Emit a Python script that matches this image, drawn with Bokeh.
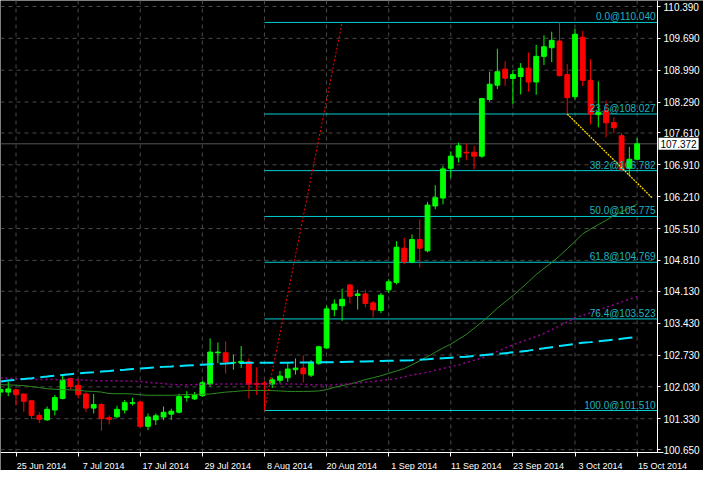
import pandas as pd
from bokeh.plotting import figure
from bokeh.models import (Range1d, FixedTicker, PrintfTickFormatter, CustomJSTickFormatter,
                          LinearAxis, Label, ColumnDataSource)
from bokeh.core.properties import value
from bokeh.embed import file_html
from bokeh.resources import INLINE

FONT = "Liberation Sans"

# ---- data (daily bars, 23 Jun 2014 .. 15 Oct 2014) ----
dates = [d.strftime("%-d %b %Y") for d in pd.bdate_range("2014-06-23", "2014-10-15")]

opens = [101.915, 101.915, 101.964, 101.873, 101.725, 101.403, 101.304, 101.521, 101.774, 102.210,
         102.063, 101.873, 101.563, 101.641, 101.352, 101.373, 101.521, 101.668, 101.698, 101.162,
         101.304, 101.367, 101.430, 101.472, 101.795, 101.767, 101.837, 102.090, 102.779, 102.779,
         102.554, 102.554, 102.583, 102.105, 102.111, 102.090, 102.174, 102.231, 102.406, 102.442,
         102.288, 102.547, 102.885, 103.728, 103.812, 104.270, 104.038, 104.072, 103.876, 103.707,
         104.164, 104.325, 105.077, 104.776, 105.267, 105.020, 106.005, 106.180, 106.833, 107.080,
         107.186, 107.186, 107.101, 108.345, 108.661, 109.013, 108.809, 108.851, 109.034, 108.731,
         109.294, 109.483, 109.631, 108.893, 108.408, 109.715, 108.767, 108.014, 108.098, 107.839,
         107.550, 106.833, 107.032]
highs = [102.020, 102.141, 101.985, 101.880, 101.730, 101.472, 101.599, 101.852, 102.288, 102.231,
         102.195, 101.909, 101.873, 101.668, 101.403, 101.614, 101.740, 101.789, 101.705, 101.445,
         101.445, 101.599, 101.550, 101.879, 101.936, 101.915, 102.162, 103.096, 103.005, 103.032,
         102.737, 102.927, 102.653, 102.457, 102.160, 102.231, 102.379, 102.547, 102.653, 102.722,
         102.617, 102.933, 103.812, 103.954, 104.186, 104.280, 104.164, 104.164, 103.918, 104.093,
         104.396, 105.231, 105.309, 105.379, 105.710, 106.096, 106.462, 106.884, 107.207, 107.396,
         107.382, 107.327, 108.381, 108.956, 109.462, 109.188, 108.992, 109.146, 109.378, 109.547,
         109.757, 109.836, 110.040, 109.125, 109.899, 109.857, 109.230, 108.746, 108.324, 107.959,
         107.607, 107.306, 107.502]
lows = [101.810, 101.824, 101.620, 101.479, 101.318, 101.234, 101.283, 101.403, 101.753, 101.978,
        101.774, 101.479, 101.445, 101.065, 101.205, 101.340, 101.445, 101.620, 101.135, 101.078,
        101.192, 101.297, 101.304, 101.445, 101.704, 101.740, 101.810, 102.035, 102.547, 102.322,
        102.406, 102.442, 101.774, 101.850, 101.510, 102.006, 102.105, 102.141, 102.301, 102.126,
        102.246, 102.512, 102.864, 103.581, 103.481, 103.861, 103.728, 103.777, 103.553, 103.650,
        104.093, 104.282, 104.725, 104.746, 104.656, 104.987, 105.935, 106.041, 106.623, 106.960,
        107.011, 106.812, 107.065, 108.303, 108.577, 108.647, 108.240, 108.457, 108.520, 108.450,
        109.104, 109.167, 108.851, 108.008, 108.345, 108.640, 107.797, 107.734, 107.516, 107.607,
        106.764, 106.673, 107.011]
closes = [101.972, 101.985, 101.858, 101.711, 101.403, 101.318, 101.536, 101.795, 102.183, 102.041,
          101.858, 101.563, 101.641, 101.331, 101.318, 101.536, 101.683, 101.683, 101.162, 101.367,
          101.394, 101.472, 101.493, 101.816, 101.824, 101.845, 102.119, 102.794, 102.794, 102.575,
          102.568, 102.590, 102.090, 102.084, 102.090, 102.183, 102.267, 102.421, 102.442, 102.316,
          102.568, 102.912, 103.743, 103.848, 103.954, 104.023, 104.072, 103.861, 103.722, 104.044,
          104.339, 105.098, 104.782, 105.267, 105.077, 106.026, 106.188, 106.821, 107.101, 107.327,
          107.171, 107.101, 108.366, 108.682, 108.956, 108.815, 108.893, 109.034, 108.731, 109.294,
          109.505, 109.646, 108.872, 108.387, 109.779, 108.767, 108.029, 108.065, 107.833, 107.727,
          106.800, 107.032, 107.372]

ma_cyan = [102.147, 102.168, 102.185, 102.202, 102.219, 102.240, 102.256, 102.273, 102.292, 102.309,
           102.324, 102.341, 102.353, 102.366, 102.379, 102.393, 102.406, 102.421, 102.433, 102.446,
           102.459, 102.469, 102.478, 102.488, 102.499, 102.507, 102.518, 102.526, 102.535, 102.543,
           102.552, 102.556, 102.560, 102.562, 102.562, 102.562, 102.562, 102.562, 102.564, 102.566,
           102.566, 102.568, 102.568, 102.572, 102.577, 102.581, 102.585, 102.589, 102.594, 102.598,
           102.602, 102.606, 102.611, 102.617, 102.625, 102.636, 102.649, 102.661, 102.672, 102.682,
           102.693, 102.708, 102.724, 102.739, 102.754, 102.771, 102.788, 102.805, 102.826, 102.853,
           102.876, 102.902, 102.927, 102.952, 102.975, 102.998, 103.013, 103.030, 103.049, 103.066,
           103.087, 103.108, 103.129]
ma_purple = [102.225, 102.219, 102.210, 102.202, 102.195, 102.193, 102.191, 102.189, 102.187, 102.185,
             102.183, 102.176, 102.168, 102.162, 102.162, 102.162, 102.160, 102.155, 102.147, 102.130,
             102.117, 102.101, 102.084, 102.077, 102.077, 102.079, 102.084, 102.088, 102.090, 102.090,
             102.090, 102.090, 102.090, 102.090, 102.090, 102.090, 102.090, 102.090, 102.090, 102.084,
             102.077, 102.073, 102.073, 102.079, 102.088, 102.098, 102.113, 102.130, 102.147, 102.168,
             102.189, 102.214, 102.248, 102.290, 102.320, 102.349, 102.394, 102.434, 102.472, 102.510,
             102.565, 102.615, 102.664, 102.733, 102.809, 102.883, 102.956, 103.016, 103.077, 103.138,
             103.201, 103.285, 103.370, 103.454, 103.549, 103.602, 103.659, 103.718, 103.777, 103.834,
             103.897, 103.956, 104.009]
ma_green = [102.077, 102.073, 102.067, 102.056, 102.035, 102.016, 101.989, 101.978, 101.968, 101.964,
            101.961, 101.936, 101.930, 101.915, 101.883, 101.879, 101.879, 101.873, 101.856, 101.845,
            101.845, 101.845, 101.845, 101.852, 101.862, 101.866, 101.866, 101.873, 101.894, 101.915,
            101.926, 101.942, 101.951, 101.951, 101.951, 101.947, 101.940, 101.930, 101.930, 101.930,
            101.932, 101.940, 101.968, 102.020, 102.056, 102.094, 102.136, 102.189, 102.231, 102.273,
            102.326, 102.379, 102.431, 102.516, 102.600, 102.695, 102.790, 102.885, 102.969, 103.075,
            103.180, 103.317, 103.454, 103.602, 103.760, 103.897, 104.034, 104.182, 104.340, 104.498,
            104.635, 104.761, 104.909, 105.067, 105.225, 105.394, 105.499, 105.594, 105.689, 105.794,
            105.879, 105.963, 106.041]

date_ticks = ["25 Jun 2014", "7 Jul 2014", "17 Jul 2014", "29 Jul 2014", "8 Aug 2014",
              "20 Aug 2014", "1 Sep 2014", "11 Sep 2014", "23 Sep 2014", "3 Oct 2014", "15 Oct 2014"]
price_ticks = [110.390, 109.690, 108.990, 108.290, 107.610, 106.910, 106.210, 105.510,
               104.810, 104.130, 103.430, 102.730, 102.030, 101.330, 100.650]

fib_levels = [0.0, 23.6, 38.2, 50.0, 61.8, 76.4, 100.0]
fib_prices = [110.040, 108.027, 106.782, 105.775, 104.769, 103.523, 101.510]
fib_start = "8 Aug 2014"

red_line_x = [34, 44]
red_line_y = [101.510, 110.040]
yellow_line_x = [73, 84]
yellow_line_y = [108.027, 106.174]

last_price = 107.372

# ---- geometry ----
W, H = 703, 470
X_END = 84.625               # right edge of the price area (bars)
Y_START = 100.587            # bottom edge of the price area
AXIS_PX_X = 657              # pixel column of the price axis
AXIS_PX_Y = 452              # pixel row of the time axis
TOP_TICK_PX = 6              # pixel row of the highest price tick
PX_X = AXIS_PX_X / X_END
PX_Y = (AXIS_PX_Y - TOP_TICK_PX) / (price_ticks[0] - Y_START)
Y_END = price_ticks[0] + TOP_TICK_PX / PX_Y
X_CANVAS = W / PX_X
Y_CANVAS = Y_START - (H - AXIS_PX_Y) / PX_Y
LABEL_SHIFT = 25.5 / PX_X    # MT4 puts the date text to the right of its tick

xs = list(range(len(dates)))
tick_idx = [dates.index(t) for t in date_ticks]
label_pos = [i + LABEL_SHIFT for i in tick_idx]

p = figure(width=W, height=H, x_range=Range1d(0, X_CANVAS), y_range=Range1d(Y_CANVAS, Y_END),
           x_axis_location=None, y_axis_location=None,
           toolbar_location=None, output_backend="svg",
           background_fill_color="black", border_fill_color="black", outline_line_color=None,
           min_border_left=0, min_border_top=0, min_border_right=0, min_border_bottom=0)
p.xgrid.visible = False
p.ygrid.visible = False

GRID = dict(line_color="#4a4a4a", line_dash="4 4", line_width=1)
p.segment(x0=tick_idx, y0=[Y_START] * len(tick_idx), x1=tick_idx, y1=[Y_END] * len(tick_idx), **GRID)
p.segment(x0=[0] * len(price_ticks), y0=price_ticks, x1=[X_END] * len(price_ticks), y1=price_ticks, **GRID)

# bid line
p.segment(x0=[0], y0=[last_price], x1=[X_END], y1=[last_price], line_color="#555555", line_width=1)

# fibonacci levels
fs = dates.index(fib_start)
p.segment(x0=[fs] * len(fib_prices), y0=fib_prices, x1=[X_END] * len(fib_prices), y1=fib_prices,
          line_color="#00CED1", line_width=1)

# candles
src = ColumnDataSource(dict(
    x=xs, h=highs, l=lows,
    top=[max(o, c) for o, c in zip(opens, closes)],
    bottom=[min(o, c) for o, c in zip(opens, closes)],
    color=["#00FF00" if c >= o else "#FF0000" for o, c in zip(opens, closes)],
))
p.segment(x0="x", y0="h", x1="x", y1="l", line_color="color", line_width=1, source=src)
p.vbar(x="x", width=0.62, top="top", bottom="bottom", fill_color="color",
       line_color="color", line_width=1, source=src)

# moving averages
p.line(xs, ma_green, line_color="#2E8B22", line_width=1)
p.line(xs, ma_purple, line_color="#990099", line_width=1.5, line_dash="2 3")
p.line(xs, ma_cyan, line_color="#00E5FF", line_width=2, line_dash="14 6")

# trend lines
p.line(red_line_x, red_line_y, line_color="#FF0000", line_width=1, line_dash="2 2")
p.line(yellow_line_x, yellow_line_y, line_color="#FFD700", line_width=1.3, line_dash="2 1")

# fibo labels
p.text(x=[X_END] * len(fib_prices), y=fib_prices,
       text=[f"{lv:.1f}@{pr:.3f}" for lv, pr in zip(fib_levels, fib_prices)],
       text_align="right", text_baseline="bottom", x_offset=-2,
       text_color="#1DB5C2", text_font=value(FONT), text_font_size="10px")

# ---- axes (fixed at the edges of the price area) ----
xaxis = LinearAxis(fixed_location=Y_START, bounds=(0, label_pos[-1] + 0.05),
                   ticker=FixedTicker(ticks=label_pos, minor_ticks=tick_idx),
                   formatter=CustomJSTickFormatter(
                       args=dict(pos=label_pos, labels=date_ticks),
                       code="const i = pos.findIndex(v => Math.abs(v - tick) < 1e-6);"
                            " return i >= 0 ? labels[i] : '';"),
                   axis_line_color="white", major_tick_line_color=None,
                   minor_tick_line_color="white", minor_tick_out=4, minor_tick_in=0,
                   major_tick_out=0, major_tick_in=0, major_label_standoff=4,
                   major_label_text_color="white", major_label_text_font=FONT,
                   major_label_text_font_size="9px")
p.add_layout(xaxis, "below")

yaxis = LinearAxis(fixed_location=X_END, bounds=(Y_START, Y_END),
                   ticker=FixedTicker(ticks=price_ticks, minor_ticks=[]),
                   formatter=PrintfTickFormatter(format="%.3f"),
                   axis_line_color="white", major_tick_line_color="white",
                   major_tick_out=3, major_tick_in=0, minor_tick_line_color=None,
                   major_label_standoff=3, major_label_text_color="white",
                   major_label_text_font=FONT, major_label_text_font_size="10px")
p.add_layout(yaxis, "right")

# current price box
p.add_layout(Label(x=X_END, y=last_price, text=f"{last_price:.3f}", x_offset=1,
                   text_align="left", text_baseline="middle", text_color="black",
                   background_fill_color="white", text_font=FONT, text_font_size="10px",
                   padding=2))

open("out.html", "w").write(file_html(p, INLINE))
